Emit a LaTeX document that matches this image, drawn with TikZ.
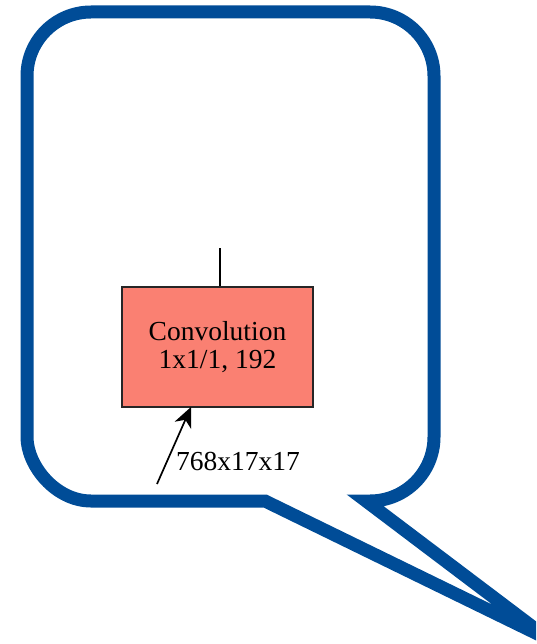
\documentclass[tikz,border=0pt]{standalone}
\usepackage{fontspec}
\setmainfont{Liberation Serif}
\usetikzlibrary{arrows.meta}
\definecolor{bubbleblue}{RGB}{0,76,151}
\definecolor{convfill}{RGB}{250,128,114}
\tikzset{
  bubble/.style={draw=bubbleblue, line width=13pt, line join=miter},
  layerbox/.style={draw=black!85, fill=convfill, line width=1.4pt,
    minimum width=191pt, minimum height=120pt, align=center,
    font=\fontsize{27.5}{30}\selectfont, inner sep=0pt},
  edgelabel/.style={font=\fontsize{27.5}{30}\selectfont, inner sep=0pt},
  flow/.style={draw=black, line width=1.7pt,
    -{Stealth[length=20pt, width=18pt, inset=6pt]}}
}
\begin{document}
\begin{tikzpicture}[x=1pt, y=-1pt]
  \useasboundingbox (0,0) rectangle (536,644);
  \clip (0,0) rectangle (536,644);

  % speech bubble outline: rounded box, then the tail to the lower right
  \draw[bubble] (265,501) -- (91,501)
    .. controls (55.7,501) and (27,465.7) .. (27,437) -- (27,76)
    .. controls (27,40.7) and (55.7,12) .. (91,12) -- (370,12)
    .. controls (405.3,12) and (434,40.7) .. (434,76) -- (434,437)
    .. controls (434,472.3) and (405.3,501) .. (370,501) -- (366,501)
    -- (550,640) -- cycle;

  % layer box
  \node[layerbox] (conv) at (217.5,347) {Convolution\\[-2pt]1x1/1, 192};

  % outgoing edge above the box
  \coordinate (up) at (220,248);
  \draw[line width=1.2pt] (conv.north -| up) -- (up);

  % incoming edge with its shape label
  \coordinate (src) at (157,484);
  \coordinate (dst) at (191,407);
  \draw[flow] (src) -- (dst);
  \node[edgelabel, anchor=west] (shape) at (176,461) {768x17x17};
\end{tikzpicture}
\end{document}
